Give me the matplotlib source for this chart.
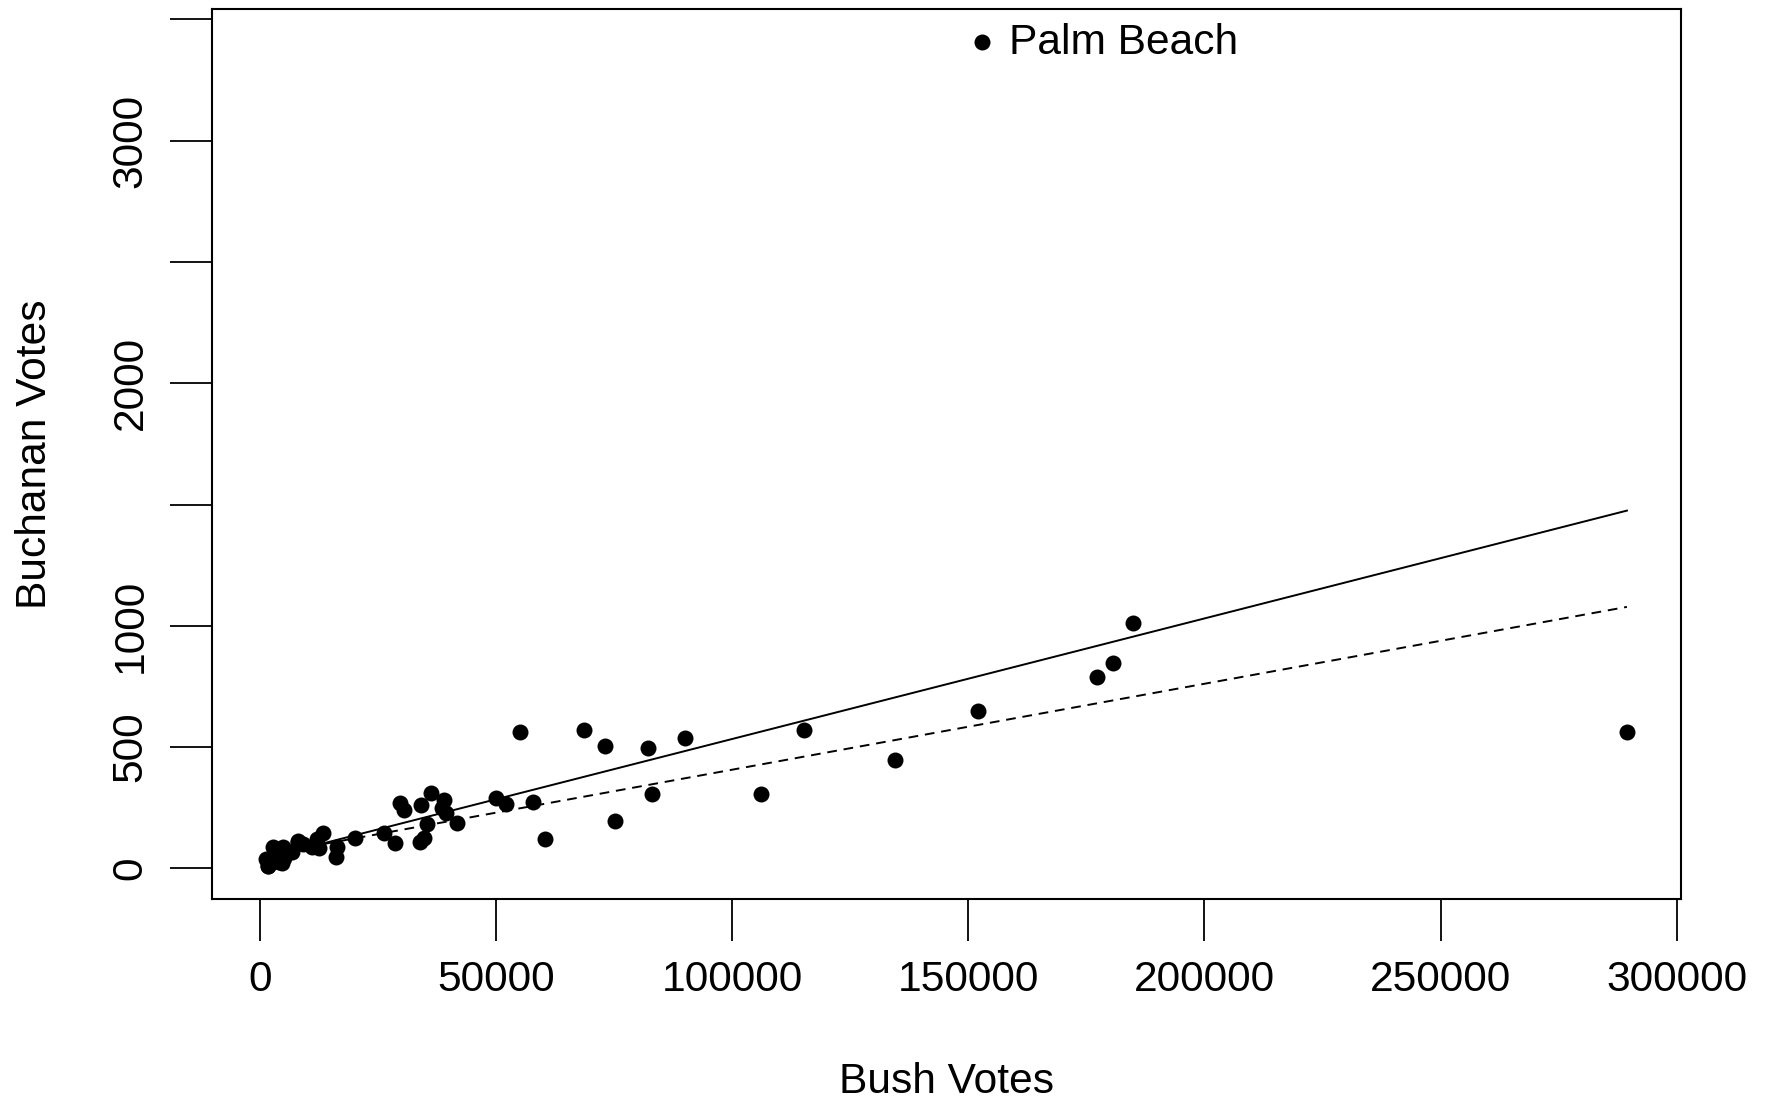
import matplotlib
matplotlib.use("Agg")
import matplotlib.pyplot as plt

# Florida 2000, county totals
counties = ["Alachua", "Baker", "Bay", "Bradford", "Brevard", "Broward", "Calhoun",
            "Charlotte", "Citrus", "Clay", "Collier", "Columbia", "Dade", "De Soto",
            "Dixie", "Duval", "Escambia", "Flagler", "Franklin", "Gadsden", "Gilchrist",
            "Glades", "Gulf", "Hamilton", "Hardee", "Hendry", "Hernando", "Highlands",
            "Hillsborough", "Holmes", "Indian River", "Jackson", "Jefferson", "Lafayette",
            "Lake", "Lee", "Leon", "Levy", "Liberty", "Madison", "Manatee", "Marion",
            "Martin", "Monroe", "Nassau", "Okaloosa", "Okeechobee", "Orange", "Osceola",
            "Palm Beach", "Pasco", "Pinellas", "Polk", "Putnam", "St. Johns", "St. Lucie",
            "Santa Rosa", "Sarasota", "Seminole", "Sumter", "Suwannee", "Taylor", "Union",
            "Volusia", "Wakulla", "Walton", "Washington"]
bush = [34062, 5610, 38637, 5413, 115185, 177279, 2873,
        35419, 29744, 41745, 60426, 10964, 289456, 4256,
        2698, 152082, 73029, 12608, 2448, 4750, 3300,
        1840, 3546, 2153, 3764, 4743, 30646, 20196,
        180713, 4985, 28627, 9138, 2481, 1669,
        49963, 106141, 39053, 6860, 1316, 3038, 57948, 55135,
        33864, 16059, 16404, 52043, 5058, 134476, 26216,
        152846, 68581, 184825, 90101, 13439, 39497, 34705,
        36248, 83100, 75293, 8146, 8014, 4051, 2326,
        82214, 4511, 12176, 4983]
buchanan = [262, 73, 248, 65, 570, 789, 90,
            182, 270, 186, 122, 89, 561, 36,
            29, 650, 504, 83, 33, 39, 29,
            9, 71, 24, 30, 22, 242, 127,
            847, 76, 105, 102, 29, 10,
            289, 305, 282, 67, 39, 29, 272, 563,
            108, 47, 90, 267, 43, 446, 145,
            3407, 570, 1010, 538, 147, 229, 124,
            311, 305, 194, 114, 108, 27, 37,
            496, 46, 120, 88]
labelled = "Palm Beach"

# fitted lines
fit_x = [13439, 289456]
fit_solid = [103, 1475]
fit_dashed = [100, 1078]

yticks = [0, 500, 1000, 1500, 2000, 2500, 3000, 3500]
ytick_labels = ["0", "500", "1000", "", "2000", "", "3000", ""]
xticks = [0, 50000, 100000, 150000, 200000, 250000, 300000]

plt.rcParams['font.family'] = ['Liberation Sans', 'DejaVu Sans']
FS = 30.6

fig = plt.figure(figsize=(17.73, 11.05), dpi=100)
ax = fig.add_axes([0.1193, 0.1863, 0.829, 0.8055])

ax.plot(bush, buchanan, 'o', color='black', markersize=11.5, markeredgewidth=0)
ax.plot(fit_x, fit_solid, '-', color='black', lw=1.4)
ax.plot(fit_x, fit_dashed, color='black', lw=1.4, ls=(0, (5, 3.5)))

i = counties.index(labelled)
ax.annotate(labelled, (bush[i], buchanan[i]), xytext=(20, -1), textcoords='offset points',
            fontsize=FS, va='center', ha='left')

# R-style 4% padding
xr = max(bush) - min(bush)
yr = max(buchanan) - min(buchanan)
ax.set_xlim(min(bush) - 0.04 * xr, max(bush) + 0.04 * xr)
ax.set_ylim(min(buchanan) - 0.04 * yr, max(buchanan) + 0.04 * yr)

ax.set_xticks(xticks)
ax.set_xticklabels([str(v) for v in xticks])
ax.set_yticks(yticks)
ax.set_yticklabels(ytick_labels, rotation=90, va='center')
ax.tick_params(axis='both', direction='out', length=30, width=1.3, labelsize=FS, pad=14)
ax.tick_params(axis='x', pad=14)
for s in ax.spines.values():
    s.set_linewidth(1.5)

ax.set_xlabel("Bush Votes", fontsize=FS)
ax.set_ylabel("Buchanan Votes", fontsize=FS)
ax.xaxis.set_label_coords(0.5, -0.206)
ax.yaxis.set_label_coords(-0.12, 0.5)
ax.xaxis.label.set_va('center')
ax.yaxis.label.set_va('center')

fig.savefig("out.png", dpi=100)
